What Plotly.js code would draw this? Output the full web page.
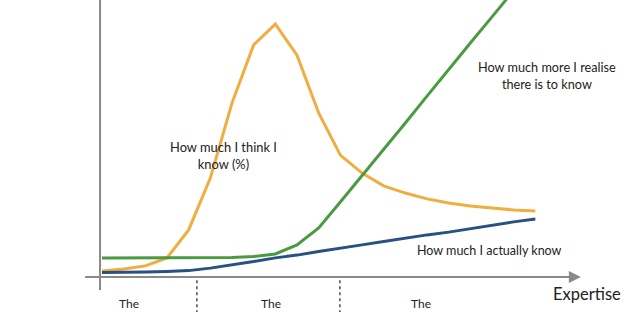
<!DOCTYPE html>
<html>
<head>
<meta charset="utf-8">
<script src="https://cdn.plot.ly/plotly-3.0.1.min.js"></script>
<style>
  html, body { margin: 0; padding: 0; background: #fff; }
  #chart { width: 627px; height: 312px; }
</style>
</head>
<body>
<div id="chart"></div>
<script>
// Expertise steps along the horizontal axis
const expertise = [0, 1, 2, 3, 4, 5, 6, 7, 8, 9, 10, 11, 12, 13, 14, 15, 16, 17, 18, 19, 20];

// How much I think I know (%)
const thinkKnow = [2.2, 2.9, 4.0, 6.9, 17.0, 35.7, 62.8, 83.8, 91.3, 80.1, 59.2,
                   44.0, 37.5, 32.9, 30.3, 28.2, 26.7, 25.6, 24.9, 24.2, 23.8];

// How much more I realise there is to know
const realiseMore = [6.9, 6.9, 6.9, 6.9, 6.9, 6.9, 7.0, 7.4, 8.3, 11.6, 17.7,
                     27.1, 36.5, 46.2, 55.6, 65.3, 75.1, 84.5, 93.9, 103.2, 113.0];

// How much I actually know
const actuallyKnow = [1.6, 1.6, 1.8, 2.0, 2.3, 3.2, 4.3, 5.6, 6.9, 7.9, 9.2,
                      10.5, 11.6, 12.8, 14.1, 15.2, 16.2, 17.5, 18.6, 19.9, 20.9];

// Stage boundaries on the expertise axis
const stageBounds = [4.38, 10.98];
const stageLabels = ['The', 'The', 'The'];
const stageLabelX = [1.24, 7.8, 14.7];

const FONT = 'Lato, "Open Sans", sans-serif';
const TEXT = '#222222';
const AXIS = '#8a8a8a';

const line = (y, color) => ({
  x: expertise, y: y, type: 'scatter', mode: 'lines',
  line: { color: color, width: 3 }, hoverinfo: 'skip', showlegend: false
});

const traces = [
  line(thinkKnow, '#F0AD40'),
  line(realiseMore, '#4A9A42'),
  line(actuallyKnow, '#285083')
];

const shapes = [
  // vertical axis
  { type: 'line', xref: 'x', yref: 'y', x0: -0.09, x1: -0.09, y0: -4.7, y1: 105,
    line: { color: AXIS, width: 2 } },
  // horizontal axis
  { type: 'line', xref: 'x', yref: 'y', x0: -0.78, x1: 21.7, y0: 0, y1: 0,
    line: { color: AXIS, width: 2 } }
];
stageBounds.forEach(b => shapes.push({
  type: 'line', xref: 'x', yref: 'y', x0: b, x1: b, y0: -1.2, y1: -13,
  line: { color: '#333333', width: 1.3, dash: 'dot' }
}));

const annotations = [
  // arrow head on the expertise axis
  { x: 22.1, y: 0, xref: 'x', yref: 'y', text: '', showarrow: true,
    ax: -9, ay: 0, arrowhead: 2, arrowsize: 1.2, arrowwidth: 2, arrowcolor: AXIS },
  { x: 5.6, y: 44.0, xref: 'x', yref: 'y', text: 'How much I think I<br>know (%)',
    showarrow: false, align: 'center', font: { family: FONT, size: 12.9, color: TEXT } },
  { x: 20.55, y: 72.6, xref: 'x', yref: 'y', text: 'How much more I realise<br>there is to know',
    showarrow: false, align: 'center', font: { family: FONT, size: 12.7, color: TEXT } },
  { x: 14.45, y: 9.7, xref: 'x', yref: 'y', text: 'How much I actually know',
    showarrow: false, xanchor: 'left', font: { family: FONT, size: 12.5, color: TEXT } },
  { x: 24.05, y: -6.3, xref: 'x', yref: 'y', text: 'Expertise',
    showarrow: false, xanchor: 'right', font: { family: FONT, size: 16.5, color: TEXT } }
];
stageLabels.forEach((t, i) => annotations.push({
  x: stageLabelX[i], y: -12.64, xref: 'x', yref: 'y', text: t, showarrow: false,
  yanchor: 'bottom', borderpad: 0, font: { family: FONT, size: 12, color: TEXT }
}));

const layout = {
  width: 627, height: 312,
  margin: { l: 0, r: 0, t: 0, b: 0, pad: 0 },
  paper_bgcolor: '#ffffff', plot_bgcolor: '#ffffff',
  xaxis: { range: [-4.707, 24.23], visible: false, fixedrange: true },
  yaxis: { range: [-12.64, 100], visible: false, fixedrange: true },
  shapes: shapes,
  annotations: annotations,
  showlegend: false
};

Plotly.newPlot('chart', traces, layout, { displayModeBar: false, staticPlot: true });
</script>
</body>
</html>
